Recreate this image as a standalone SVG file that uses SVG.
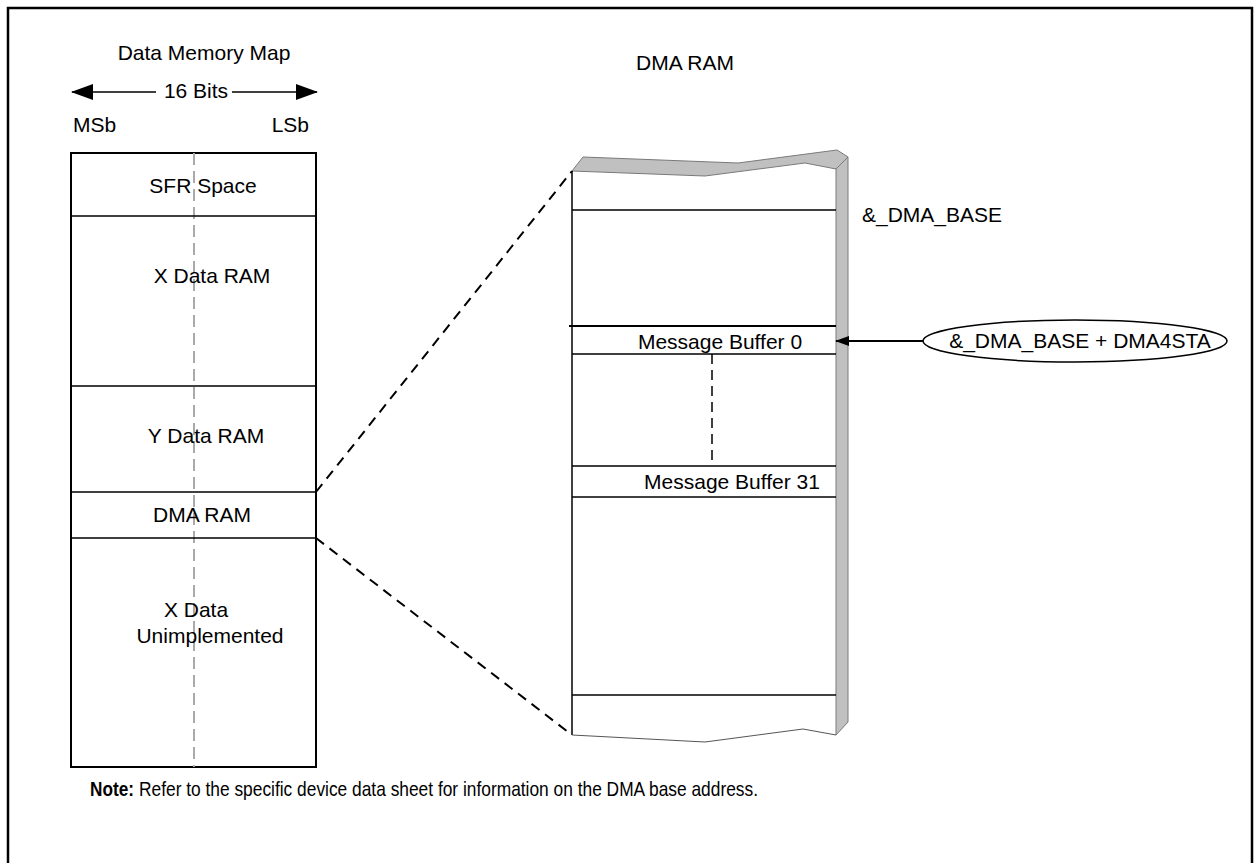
<svg xmlns="http://www.w3.org/2000/svg" width="1255" height="863" viewBox="0 0 1255 863">
<style>
text{font-family:"Liberation Sans",Arial,sans-serif;font-size:21px;fill:#000}
.m{text-anchor:middle}
.box{fill:none;stroke:#000;stroke-width:2}
.ln{stroke:#000;stroke-width:1.5}
.dash{stroke:#000;stroke-width:2;stroke-dasharray:10 7;fill:none}
.cdash{stroke:#aaa;stroke-width:2;stroke-dasharray:12 6}
.gray{fill:#c0c0c0;stroke:#7a7a7a;stroke-width:1}
</style>
<defs>
<marker id="ah" markerWidth="14" markerHeight="10" refX="13" refY="5" orient="auto" markerUnits="userSpaceOnUse">
<path d="M0,0 L14,5 L0,10 Z" fill="#000"/>
</marker>
<marker id="ahb" markerWidth="22" markerHeight="16" refX="21" refY="8" orient="auto" markerUnits="userSpaceOnUse">
<path d="M0,0 L22,8 L0,16 Z" fill="#000"/>
</marker>
</defs>
<rect width="1255" height="863" fill="#fff"/>
<rect x="8" y="8" width="1244" height="880" fill="none" stroke="#000" stroke-width="2.5"/>

<g id="header">
<text x="204" y="60" class="m">Data Memory Map</text>
<text x="196" y="98" class="m">16 Bits</text>
<line x1="156" y1="92" x2="72" y2="92" stroke="#000" stroke-width="1.5" marker-end="url(#ahb)"/>
<line x1="232" y1="92" x2="317" y2="92" stroke="#000" stroke-width="1.5" marker-end="url(#ahb)"/>
<text x="73" y="132">MSb</text>
<text x="309" y="132" text-anchor="end">LSb</text>
</g>

<g id="memory-map">
<rect x="71" y="153" width="245" height="614" class="box"/>
<line x1="194" y1="153" x2="194" y2="767" class="cdash"/>
<line x1="71" y1="216" x2="316" y2="216" class="ln"/>
<line x1="71" y1="386" x2="316" y2="386" class="ln"/>
<line x1="71" y1="492" x2="316" y2="492" class="ln"/>
<line x1="71" y1="538" x2="316" y2="538" class="ln"/>
<text x="203" y="193" class="m">SFR Space</text>
<text x="212" y="283" class="m">X Data RAM</text>
<text x="206" y="443" class="m">Y Data RAM</text>
<text x="202" y="522" class="m">DMA RAM</text>
<text x="196" y="617" class="m">X Data</text>
<text x="210" y="643" class="m">Unimplemented</text>
</g>

<g id="dma-ram">
<text x="685" y="70" class="m">DMA RAM</text>
<polygon points="572,171 583,157 738,163 837,150 848,157 836,169 805,163 705,176" class="gray"/>
<polygon points="836,169 848,157 848,722 836,735" class="gray"/>
<line x1="572" y1="171" x2="572" y2="735" class="ln"/>
<polyline points="572,735 705,742 803,729 836,735" fill="none" stroke="#555" stroke-width="1"/>
<line x1="572" y1="210" x2="836" y2="210" class="ln"/>
<line x1="569" y1="326" x2="836" y2="326" stroke="#000" stroke-width="2"/>
<line x1="572" y1="354" x2="836" y2="354" class="ln"/>
<line x1="712" y1="354" x2="712" y2="466" stroke="#000" stroke-width="1.5" stroke-dasharray="10 6"/>
<line x1="572" y1="466" x2="836" y2="466" class="ln"/>
<line x1="572" y1="497" x2="836" y2="497" class="ln"/>
<line x1="572" y1="695" x2="836" y2="695" class="ln"/>
<text x="720" y="349" class="m">Message Buffer 0</text>
<text x="732" y="489" class="m">Message Buffer 31</text>
<text x="862" y="222">&amp;_DMA_BASE</text>
</g>

<g id="dma-base-sta">
<ellipse cx="1075" cy="341" rx="152" ry="21" fill="none" stroke="#000" stroke-width="1.5"/>
<text x="1080" y="348" class="m">&amp;_DMA_BASE + DMA4STA</text>
</g>

<g id="connectors">
<line x1="316" y1="492" x2="572" y2="171" class="dash"/>
<line x1="316" y1="538" x2="572" y2="735" class="dash"/>
<line x1="923" y1="341" x2="836" y2="341" stroke="#000" stroke-width="2" marker-end="url(#ah)"/>
</g>

<g id="note">
<text x="90" y="796" font-size="19" font-weight="bold" textLength="44" lengthAdjust="spacingAndGlyphs">Note:</text>
<text x="139" y="796" font-size="19" textLength="619" lengthAdjust="spacingAndGlyphs">Refer to the specific device data sheet for information on the DMA base address.</text>
</g>
</svg>
